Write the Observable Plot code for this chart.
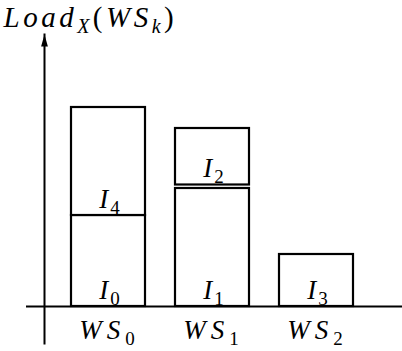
<!DOCTYPE html>
<html>
<head>
<meta charset="utf-8">
<script src="https://cdn.jsdelivr.net/npm/d3@7"></script>
<script src="https://cdn.jsdelivr.net/npm/@observablehq/plot@0.6"></script>
<style>
  html, body { margin: 0; padding: 0; background: #fff; }
  svg { display: block; }
  svg text.tex, svg text.tex tspan { font-family: "Liberation Serif", "Times New Roman", serif !important; }
</style>
</head>
<body>
<div id="chart"></div>
<script>
// Workstations along the horizontal axis
const stations = ["WS_0", "WS_1", "WS_2"];
// Tasks: the workstation each one sits on, its name, and the load span it covers
const taskStation = ["WS_0", "WS_0", "WS_1", "WS_1", "WS_2"];
const taskLabel   = ["I_0",  "I_4",  "I_1",  "I_2",  "I_3"];
const loadFrom    = [0,      91,     0,      121.5,  0];
const loadTo      = [91,     199,    118,    178,    52];
const axisTitle = "Load_X(WS_k)";

const tasks = taskLabel.map((label, i) => ({
  station: taskStation[i], label, y1: loadFrom[i], y2: loadTo[i]
}));

const SERIF = "Liberation Serif";

// filled arrowhead at the top of the load axis
const arrowHead = {
  draw(ctx) {
    ctx.moveTo(0, 0);
    ctx.lineTo(-3.4, 12);
    ctx.lineTo(3.4, 12);
    ctx.closePath();
  }
};

const chart = Plot.plot({
  width: 402,
  height: 351,
  marginLeft: 44,
  marginRight: 0,
  marginTop: 34,
  marginBottom: 8,
  x: { type: "band", domain: stations, range: [71, 353], paddingInner: 0.29, paddingOuter: 0, axis: null },
  y: { domain: [0, 300], range: [306, 6], axis: null },
  marks: [
    Plot.frame({ anchor: "left", stroke: "black", strokeWidth: 2 }),
    Plot.dot([0], { frameAnchor: "top-left", symbol: arrowHead, r: 1, fill: "black", stroke: null }),
    Plot.ruleY([0], { stroke: "black", strokeWidth: 2, insetLeft: -18 }),
    Plot.barY(tasks, { x: "station", y1: "y1", y2: "y2", fill: "white", stroke: "black", strokeWidth: 2.2 }),
    Plot.text(tasks, { x: "station", y: "y1", text: "label", lineAnchor: "bottom", dy: -8, dx: 2, fontSize: 27, fontFamily: SERIF, fill: "black", className: "math-i" }),
    Plot.text(stations, { x: d => d, frameAnchor: "bottom", text: d => d, lineAnchor: "bottom", dy: -5, dx: 1, fontSize: 27, fontFamily: SERIF, fill: "black", className: "math-ws" }),
    Plot.text([axisTitle], { frameAnchor: "top-left", text: d => d, textAnchor: "start", lineAnchor: "bottom", dx: -41, dy: -8, fontSize: 29, fontFamily: SERIF, fill: "black", className: "math-title" })
  ]
});

// Typeset "A_b" strings as math: letters italic, digits/parentheses upright, "_x" as subscript.
// Characters sharing a style are kept together in one tspan.
const NS = "http://www.w3.org/2000/svg";
function typeset(selector, spacing) {
  d3.select(chart).selectAll(selector + " text").each(function () {
    const el = this;
    const src = el.textContent;
    const size = parseFloat(el.getAttribute("font-size") || el.parentNode.getAttribute("font-size")) || 27;
    const subSize = Math.round(size * 0.7);
    const drop = Math.round(size * 0.22);
    const runs = [];
    for (let i = 0; i < src.length; i++) {
      let ch = src[i], sub = false;
      if (ch === "_") { sub = true; ch = src[++i]; }
      const italic = /[A-Za-z]/.test(ch);
      const last = runs[runs.length - 1];
      if (last && last.sub === sub && last.italic === italic) last.text += ch;
      else runs.push({ text: ch, sub, italic });
    }
    while (el.firstChild) el.removeChild(el.firstChild);
    el.classList.add("tex");
    el.setAttribute("letter-spacing", spacing);
    let shift = 0;
    for (const r of runs) {
      const t = document.createElementNS(NS, "tspan");
      t.textContent = r.text;
      t.setAttribute("font-style", r.italic ? "italic" : "normal");
      if (r.sub) t.setAttribute("font-size", subSize);
      const target = r.sub ? drop : 0;
      if (target !== shift) { t.setAttribute("dy", target - shift); shift = target; }
      el.appendChild(t);
    }
  });
}
typeset(".math-i", 2);
typeset(".math-ws", 5);
typeset(".math-title", 3.5);

document.getElementById("chart").appendChild(chart);
</script>
</body>
</html>
